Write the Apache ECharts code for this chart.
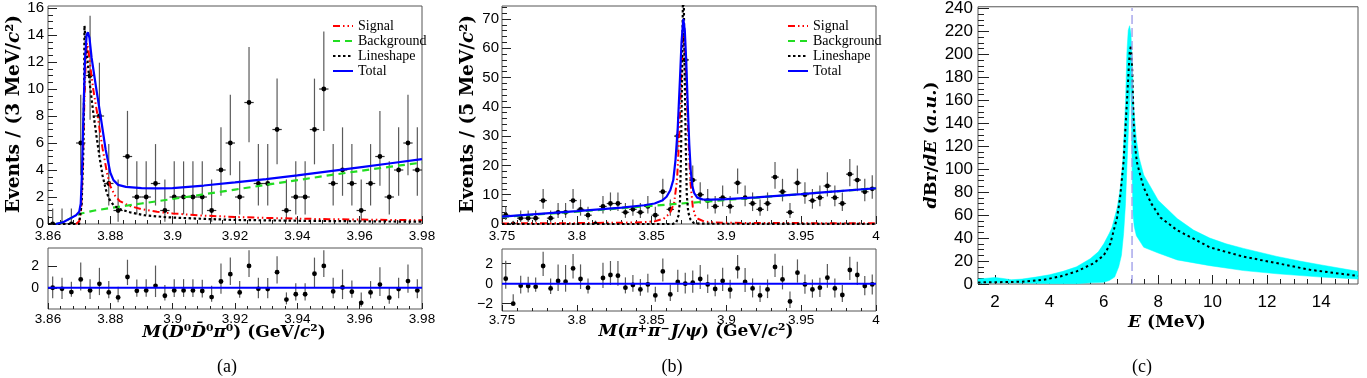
<!DOCTYPE html>
<html><head><meta charset="utf-8">
<script src="https://cdn.jsdelivr.net/npm/echarts@6/dist/echarts.min.js"></script>
<style>html,body{margin:0;padding:0;background:#fff}#c{width:1367px;height:378px}</style>
</head><body><div id="c"></div><script>
// ================= Panel (a): M(D0 D0bar pi0), 3 MeV bins =================
const rangeA = [3.86, 3.98];
const countsA = [0,0,0,6,11,8,3,1,5,2,2,3,1,2,2,2,2,1,4,6,2,9,3,3,7,1,2,2,7,10,3,4,3,1,3,5,2,4,6,4];
const lowA  = [0,0,0,3.62,7.73,5.23,1.37,0.17,2.84,0.71,0.71,1.37,0.17,0.71,0.71,0.71,0.71,0.17,2.09,3.62,0.71,6.06,1.37,1.37,4.42,0.17,0.71,0.71,4.42,6.89,1.37,2.09,1.37,0.17,1.37,2.84,0.71,2.09,3.62,2.09];
const highA = [1.15,1.15,1.15,9.58,15.42,11.95,5.92,3.30,8.38,4.64,4.64,5.92,3.30,4.64,4.64,4.64,4.64,3.30,7.16,9.58,4.64,13.11,5.92,5.92,10.77,3.30,4.64,4.64,10.77,14.27,5.92,7.16,5.92,3.30,5.92,8.38,4.64,7.16,9.58,7.16];
const resA   = [0,-0.1,-0.4,0.77,-0.25,0.37,-0.43,-0.9,1.0,-0.28,-0.25,0.18,-0.74,-0.25,-0.25,-0.25,-0.3,-0.86,0.58,1.26,-0.43,2.03,-0.1,-0.12,1.45,-1.1,-0.6,-0.6,1.3,2.03,-0.34,0.03,-0.37,-1.4,-0.43,0.3,-0.92,-0.12,0.62,-0.25];
const resHiA = [1.05,1.02,0.95,1.57,1.05,1.48,1.05,1.0,1.6,1.05,1.05,1.88,1.0,1.05,1.05,1.05,1.05,1.04,1.67,1.54,1.05,1.45,1.02,1.02,1.47,0.67,1.03,1.03,1.5,1.45,1.26,1.67,1.05,0.97,1.05,1.6,0.95,1.04,1.53,1.05];
const resLoA = [0.98,0.95,0.43,1.02,0.8,1.05,0.55,0.45,0.75,0.55,0.58,1.04,0.43,0.6,0.6,0.6,0.6,0.43,1.13,1.01,0.49,1.03,0.88,0.86,1.05,0.44,0.57,0.57,1.3,1.03,0.64,1.08,0.55,0.35,0.55,1.07,0.56,0.86,1.08,0.73];
const signalA = [[3.8690,0],[3.8700,0.2],[3.8706,1.0],[3.8711,4.0],[3.8716,8.5],[3.8721,12.0],[3.8725,13.4],[3.8729,13.0],[3.8735,11.8],[3.8745,10.0],[3.8760,7.9],[3.8775,5.6],[3.8790,3.7],[3.8800,2.8],[3.8815,2.1],[3.8830,1.7],[3.8860,1.35],[3.8900,1.1],[3.8950,0.9],[3.9000,0.78],[3.9100,0.62],[3.9200,0.52],[3.9300,0.45],[3.9400,0.4],[3.9500,0.36],[3.9600,0.33],[3.9700,0.3],[3.9800,0.28]];
const backgroundA = [[3.8625,0],[3.8650,0.15],[3.8670,0.4],[3.8690,0.65],[3.8710,0.8],[3.8750,1.0],[3.8800,1.18],[3.8850,1.35],[3.8900,1.52],[3.9000,1.85],[3.9100,2.2],[3.9200,2.55],[3.9300,2.9],[3.9400,3.25],[3.9500,3.6],[3.9600,3.93],[3.9700,4.25],[3.9800,4.55]];
const lineshapeA = [[3.8600,0],[3.8700,0],[3.8708,1.5],[3.8713,5],[3.8716,10],[3.8717,14.7],[3.8722,13.2],[3.8728,11.8],[3.8735,10.2],[3.8745,8.3],[3.8755,6.6],[3.8765,5.0],[3.8775,3.6],[3.8785,2.6],[3.8795,1.9],[3.8810,1.4],[3.8830,1.1],[3.8865,0.85],[3.8910,0.65],[3.8980,0.5],[3.9100,0.38],[3.9200,0.3],[3.9400,0.24],[3.9600,0.2],[3.9800,0.17]];
const totalA = [[3.8625,0],[3.8650,0.15],[3.8670,0.4],[3.8690,0.65],[3.8700,0.9],[3.8705,1.5],[3.8709,3.8],[3.8714,8.5],[3.8719,12.3],[3.8724,14.0],[3.8728,14.2],[3.8733,13.8],[3.8740,12.3],[3.8755,10.0],[3.8770,7.8],[3.8785,5.5],[3.8800,3.8],[3.8810,3.25],[3.8825,2.9],[3.8850,2.75],[3.8900,2.66],[3.8950,2.64],[3.9000,2.66],[3.9100,2.85],[3.9200,3.08],[3.9300,3.33],[3.9400,3.6],[3.9500,3.9],[3.9600,4.2],[3.9700,4.5],[3.9800,4.8]];
const ticksAX = [3.86,3.88,3.90,3.92,3.94,3.96,3.98];
const ticksAY = [0,2,4,6,8,10,12,14,16];
const ticksARY = [0,2];

// ================= Panel (b): M(pi+ pi- J/psi), 5 MeV bins =================
const rangeB = [3.75, 4.0];
const countsB = [3,0,2,2,2,8,2,4,4,8,5,3,0,6,7,7,4,5,4,6,3,11,5,30,56,15,10,8,6,9,6,14,9,7,5,7,16,11,4,14,10,8,9,13,9,7,17,15,11,12];
const lowB  = [1.37,0,0.71,0.71,0.71,5.23,0.71,2.09,2.09,5.23,2.84,1.37,0,3.62,4.42,4.42,2.09,2.84,2.09,3.62,1.37,7.73,2.84,24.5,48.6,11.2,6.89,5.23,3.62,6.06,3.62,10.3,6.06,4.42,2.84,4.42,12.0,7.73,2.09,10.3,6.89,5.23,6.06,9.4,6.06,4.42,12.9,11.2,7.73,8.6];
const highB = [5.92,1.15,4.64,4.64,4.64,11.95,4.64,7.16,7.16,11.95,8.38,5.92,1.15,9.58,10.77,10.77,7.16,8.38,7.16,9.58,5.92,15.42,8.38,36.6,63.6,20.0,14.27,11.95,9.58,13.11,9.58,18.9,13.11,10.77,8.38,10.77,21.2,15.42,7.16,18.9,14.27,11.95,13.11,17.7,13.11,10.77,22.2,20.0,15.42,16.6];
const resB   = [0.5,-2.0,-0.2,-0.23,-0.3,1.77,-0.47,0.27,0.2,1.53,0.47,-0.4,null,0.57,0.87,0.8,-0.4,-0.13,-0.57,-0.07,-1.17,1.23,-1.07,0.17,0,0.1,0.47,-0.07,-0.53,0.27,-0.6,1.53,0.17,-0.47,-1.17,-0.57,1.67,0.43,-1.77,1.1,-0.07,-0.57,-0.4,0.6,-0.47,-1.13,1.37,0.87,-0.23,-0.07];
const resHiB = [1.8,0.95,1.0,0.93,0.93,1.43,1.0,1.66,1.67,1.43,1.46,0.93,null,1.53,1.4,1.47,1.03,1.0,1.04,1.07,0.87,1.3,1.0,1.23,1.1,1.23,1.4,1.0,1.0,1.33,1.0,1.33,1.4,1.0,1.0,1.0,1.33,1.37,1.0,1.33,1.0,1.0,1.0,1.37,1.0,1.0,1.33,1.33,1.0,1.0];
const resLoB = [1.0,0,0.77,0.64,0.5,1.0,0.56,1.0,1.0,1.0,1.0,0.57,null,1.0,1.0,1.0,0.57,0.67,0.63,0.8,0.63,1.0,0.66,1.0,0.97,1.0,1.0,0.87,0.73,1.0,0.87,1.0,1.0,0.9,0.67,0.87,1.0,1.0,0.67,1.0,0.93,0.83,0.93,1.0,0.9,0.7,1.0,1.0,0.93,1.0];
const signalB = [[3.75,0.2],[3.80,0.3],[3.84,0.5],[3.852,0.9],[3.858,1.8],[3.862,3.5],[3.865,7],[3.867,15],[3.8685,30],[3.8698,50],[3.871,64],[3.872,63],[3.8732,50],[3.8745,30],[3.876,14],[3.8775,6],[3.879,3],[3.881,1.8],[3.885,0.9],[3.89,0.6],[3.90,0.4],[3.95,0.3],[4.0,0.25]];
const backgroundB = [[3.75,2.4],[3.80,4.2],[3.85,6.2],[3.90,8.2],[3.95,10.2],[4.00,12.2]];
const lineshapeB = [[3.75,0],[3.864,0],[3.8665,0.5],[3.868,3],[3.869,8],[3.8697,25],[3.8705,55],[3.8712,90],[3.872,55],[3.8728,28],[3.8735,10],[3.8745,4],[3.876,1.5],[3.878,0.4],[3.882,0.1],[4.0,0]];
const totalB = [[3.75,2.5],[3.80,4.4],[3.83,5.6],[3.845,6.4],[3.852,7.0],[3.857,8.0],[3.860,9.3],[3.8625,11.5],[3.8645,15],[3.866,22],[3.8675,33],[3.869,50],[3.870,62],[3.8712,70],[3.8722,66],[3.8732,55],[3.8742,40],[3.8752,27],[3.8762,18],[3.8772,13],[3.8785,10.5],[3.8805,9.0],[3.884,8.4],[3.890,8.3],[3.900,8.5],[3.920,9.1],[3.950,10.2],[3.975,11.2],[4.0,12.2]];
const ticksBX = [3.75,3.80,3.85,3.90,3.95,4.00];
const ticksBY = [0,10,20,30,40,50,60,70];
const ticksBRY = [-2,0,2];

// ================= Panel (c): dBr/dE vs E =================
const rangeCX = [1.375, 15.35];
const bandUpperC = [[1.375,4.3],[1.7,5],[2.0,5.7],[2.3,4.8],[2.6,3.7],[3.0,4.3],[3.5,6],[4.0,8],[4.5,11],[5.0,15],[5.5,22],[5.8,28],[6.0,35],[6.2,44],[6.3,49],[6.5,67],[6.6,82],[6.7,107],[6.8,158],[6.85,201],[6.9,221],[6.95,225],[7.0,218],[7.05,190],[7.1,155],[7.2,126],[7.3,110],[7.47,95],[8.0,73],[8.7,57],[9.3,47],[9.9,40],[10.5,35],[11.14,31],[12.37,24],[13.2,20],[14.0,16.6],[15.35,11]];
const bandLowerC = [[1.375,0.5],[2,1],[3,0.8],[4,0.3],[5,0.3],[5.5,1],[6.0,1.5],[6.2,3],[6.4,6],[6.55,15],[6.65,25],[6.73,44],[6.8,70],[6.85,101],[6.9,130],[6.95,160],[6.99,175],[7.02,140],[7.05,90],[7.08,60],[7.12,50],[7.2,42],[7.47,32],[8.0,27],[8.7,21],[9.9,16],[11.14,11.7],[12.37,8.9],[14,6],[15.35,4.3]];
const centralC = [[1.375,1.4],[2,1.5],[3,2],[3.79,3.7],[4.4,6.6],[5.0,11],[5.63,18],[6.0,25],[6.24,35],[6.49,58],[6.6,75],[6.73,107],[6.85,158],[6.95,201],[7.0,208],[7.05,185],[7.1,140],[7.16,118],[7.22,106],[7.35,94],[7.47,84],[7.75,70],[8.08,58],[8.69,47],[9.9,32],[11.1,24],[12.4,18],[13.6,12.3],[15.35,7]];
const thresholdC = [7.04];
const ticksCX = [2,4,6,8,10,12,14];
const ticksCY = [0,20,40,60,80,100,120,140,160,180,200,220,240];

const legendNames = ['Signal','Background','Lineshape','Total'];

// ---------------- helpers ----------------
const SANS = 'Liberation Sans', SERIF = 'DejaVu Serif';
function minorTicks(majors, n, min, max) {
  const step = (majors[1]-majors[0])/n, out = [];
  for (let v = majors[0]-step; v > min+1e-9; v -= step) out.push(v);
  for (let i = 0; i < majors.length; i++) for (let k = 1; k < n; k++) {
    const v = majors[i] + k*step;
    if (i < majors.length-1 || v < max-1e-9) out.push(v);
  }
  return out;
}
const xAxes = [], yAxes = [];
function addAxis(list, dim, grid, min, max, majors, nMinor, o) {
  const base = {type:'value', gridIndex:grid, min:min, max:max, position: dim==='x'?'bottom':'left', offset:0,
    axisLine:{show:false, onZero:false}, splitLine:{show:false}};
  list.push(Object.assign({}, base, {
    axisTick:{show:true, inside:true, length:o.len, customValues:majors, lineStyle:{color:'#222', width:1}},
    axisLabel:{show:true, customValues:majors, margin:o.margin, fontFamily:SANS, fontSize:o.fs, color:'#000',
      formatter: o.fmt || (v => { const s = String(+(+v).toFixed(3)); return s.charAt(0)==='-' ? '\u2212'+s.slice(1) : s; })}
  }));
  const mins = nMinor ? minorTicks(majors, nMinor, min, max) : [];
  list.push(Object.assign({}, base, {
    axisTick:{show:mins.length>0, inside:true, length:o.mlen, customValues:mins.length?mins:[min], lineStyle:{color:'#222', width:1}},
    axisLabel:{show:false}
  }));
}
// grid 0: (a) main, 1: (a) residual, 2: (b) main, 3: (b) residual, 4: (c)
addAxis(xAxes,'x',0,rangeA[0],rangeA[1],ticksAX,5,{len:8,mlen:4,fs:13.5,margin:5});
addAxis(yAxes,'y',0,0,16.15,ticksAY,4,{len:9,mlen:5,fs:15,margin:4});
addAxis(xAxes,'x',1,rangeA[0],rangeA[1],ticksAX,5,{len:6,mlen:3,fs:13.5,margin:3});
addAxis(yAxes,'y',1,-1.97,3.69,ticksARY,0,{len:9,mlen:4,fs:14,margin:9});
addAxis(xAxes,'x',2,rangeB[0],rangeB[1],ticksBX,5,{len:8,mlen:4,fs:13.5,margin:5});
addAxis(yAxes,'y',2,0,74.4,ticksBY,5,{len:9,mlen:5,fs:15,margin:3});
addAxis(xAxes,'x',3,rangeB[0],rangeB[1],ticksBX,5,{len:6,mlen:3,fs:13.5,margin:2});
addAxis(yAxes,'y',3,-2.73,3.47,ticksBRY,0,{len:9,mlen:4,fs:14,margin:9});
addAxis(xAxes,'x',4,rangeCX[0],rangeCX[1],ticksCX,4,{len:9,mlen:5,fs:17,margin:10});
addAxis(yAxes,'y',4,0,241.5,ticksCY,4,{len:11,mlen:6,fs:17,margin:5});

function errorBar(params, api) {
  const x = api.value(0), y = api.value(1), lo = api.value(2), hi = api.value(3), hw = api.value(4);
  const p = api.coord([x, y]), pl = api.coord([x, lo]), ph = api.coord([x, hi]);
  const ch = [{type:'line', shape:{x1:p[0], y1:pl[1], x2:p[0], y2:ph[1]}, style:{stroke:'#5a5a5a', lineWidth:1.2}}];
  if (hw > 0) {
    const a = api.coord([x-hw, y]), b = api.coord([x+hw, y]);
    ch.push({type:'line', shape:{x1:a[0], y1:p[1], x2:b[0], y2:p[1]}, style:{stroke:'#333', lineWidth:1.2}});
  }
  ch.push({type:'circle', shape:{cx:p[0], cy:p[1], r:2.4}, style:{fill:'#000'}});
  return {type:'group', children:ch};
}
function histPoints(range, counts, lo, hi) {
  const w = (range[1]-range[0])/counts.length;
  return counts.map((n,i) => [range[0]+w*(i+0.5), n, lo[i], hi[i], w/2]);
}
function resPoints(range, res, hi, lo) {
  const w = (range[1]-range[0])/res.length;
  return res.map((r,i) => r===null ? null : [range[0]+w*(i+0.5), r, r-lo[i], r+hi[i], 0]).filter(Boolean);
}
const styles = {
  Signal:     {color:'#ff0000', width:2, type:[7,3,1.5,3,1.5,3]},
  Background: {color:'#22dd22', width:2.2, type:[7,5]},
  Lineshape:  {color:'#000000', width:2.2, type:[2.5,2.5]},
  Total:      {color:'#0000ff', width:2.2, type:'solid'}
};
function curve(name, data, ax) {
  return {type:'line', name:name, xAxisIndex:ax, yAxisIndex:ax, data:data, symbol:'none', showSymbol:false,
    clip:true, z:3, lineStyle:Object.assign({}, styles[name]), itemStyle:{color:styles[name].color}};
}
function errSeries(data, ax) {
  return {type:'custom', xAxisIndex:ax, yAxisIndex:ax, renderItem:errorBar, clip:true, z:2,
    dimensions:['x','y','lo','hi','hw'], encode:{x:0, y:1}, data:data};
}
function zeroLine(range, ax) {
  return {type:'line', xAxisIndex:ax, yAxisIndex:ax, data:[[range[0],0],[range[1],0]], symbol:'none',
    lineStyle:{color:'#0000ff', width:2}, z:3};
}

const series = [
  errSeries(histPoints(rangeA, countsA, lowA, highA), 0),
  curve('Signal', signalA, 0), curve('Background', backgroundA, 0), curve('Lineshape', lineshapeA, 0), curve('Total', totalA, 0),
  errSeries(resPoints(rangeA, resA, resHiA, resLoA), 2), zeroLine(rangeA, 2),
  errSeries(histPoints(rangeB, countsB, lowB, highB), 4),
  curve('Signal', signalB, 4), curve('Background', backgroundB, 4), curve('Lineshape', lineshapeB, 4), curve('Total', totalB, 4),
  errSeries(resPoints(rangeB, resB, resHiB, resLoB), 6), zeroLine(rangeB, 6),
  {type:'custom', xAxisIndex:8, yAxisIndex:8, z:1, data:[bandUpperC[0]],
    renderItem: (params, api) => {
      const pts = bandUpperC.map(p => api.coord(p)).concat(bandLowerC.slice().reverse().map(p => api.coord(p)));
      return {type:'polygon', shape:{points:pts}, style:{fill:'#00ffff', stroke:'#00ffff', lineWidth:0.5}};
    }},
  {type:'line', xAxisIndex:8, yAxisIndex:8, data:centralC, symbol:'none', z:3,
    lineStyle:{color:'#000', width:2, type:[2.5,3]}},
  {type:'line', xAxisIndex:8, yAxisIndex:8, data:[[thresholdC[0],0],[thresholdC[0],240.5]], symbol:'none', z:4,
    lineStyle:{color:'#9a9ae8', width:1.3, type:[9,4]}}
];

const rich = (fs) => ({
  b:{fontFamily:SERIF, fontWeight:'bold', fontSize:fs, fill:'#000'},
  i:{fontFamily:SERIF, fontWeight:'bold', fontStyle:'italic', fontSize:fs, fill:'#000'},
  s:{fontFamily:SERIF, fontWeight:'bold', fontSize:Math.round(fs*0.62), fill:'#000', verticalAlign:'top', padding:[0,1,0,0]}
});
function title(x, y, text, rot, fs) {
  return {type:'text', x:x, y:y, rotation:rot, silent:true,
    style:{text:text, rich:rich(fs), align:'center', verticalAlign:'middle'}};
}
function caption(x, y, text) {
  return {type:'text', x:x, y:y, silent:true,
    style:{text:text, fontFamily:'Liberation Serif', fontSize:18, fill:'#000', align:'center', verticalAlign:'middle'}};
}
const graphics = [
  title(14, 114, '{b|Events / (3 MeV/}{i|c}{b|\u00b2)}', Math.PI/2, 18.5),
  title(468, 114, '{b|Events / (5 MeV/}{i|c}{b|\u00b2)}', Math.PI/2, 18.5),
  title(234, 333, '{i|M}{b|(}{i|D}{b|\u2070}{i|D\u0304}{b|\u2070}{i|\u03c0}{b|\u2070) (GeV/}{i|c}{b|\u00b2)}', 0, 17),
  title(696, 332, '{i|M}{b|(}{i|\u03c0}{s|+}{i|\u03c0}{s|\u2212}{i|J/\u03c8}{b|) (GeV/}{i|c}{b|\u00b2)}', 0, 17),
  title(931, 145, '{i|d}{b|Br/}{i|dE}{b| (}{i|a.u.}{b|)}', Math.PI/2, 17.5),
  title(1167, 323, '{i|E}{b| (MeV)}', 0, 17),
  caption(227, 367, '(a)'), caption(672, 367, '(b)'), caption(1142, 367, '(c)')
];

const legendBase = {orient:'vertical', top:14, itemWidth:20, itemHeight:14, itemGap:1, selectedMode:false,
  itemStyle:{opacity:0},
  data:legendNames, textStyle:{fontFamily:'Liberation Serif', fontSize:14, color:'#000'}};

const chart = echarts.init(document.getElementById('c'), null, {renderer:'canvas'});
const frame = {show:true, borderColor:'#555', borderWidth:1, containLabel:false};
chart.setOption({
  animation:false,
  backgroundColor:'#fff',
  grid:[
    Object.assign({left:48, top:6, width:374, height:218}, frame),
    Object.assign({left:48, top:248, width:374, height:61}, frame),
    Object.assign({left:502, top:6, width:374, height:218}, frame),
    Object.assign({left:502, top:249, width:374, height:62}, frame),
    Object.assign({left:978, top:3, width:380, height:281}, frame)
  ],
  legend:[Object.assign({left:327}, legendBase), Object.assign({left:782}, legendBase)],
  xAxis:xAxes, yAxis:yAxes,
  series:series,
  graphic:graphics
});
</script></body></html>
